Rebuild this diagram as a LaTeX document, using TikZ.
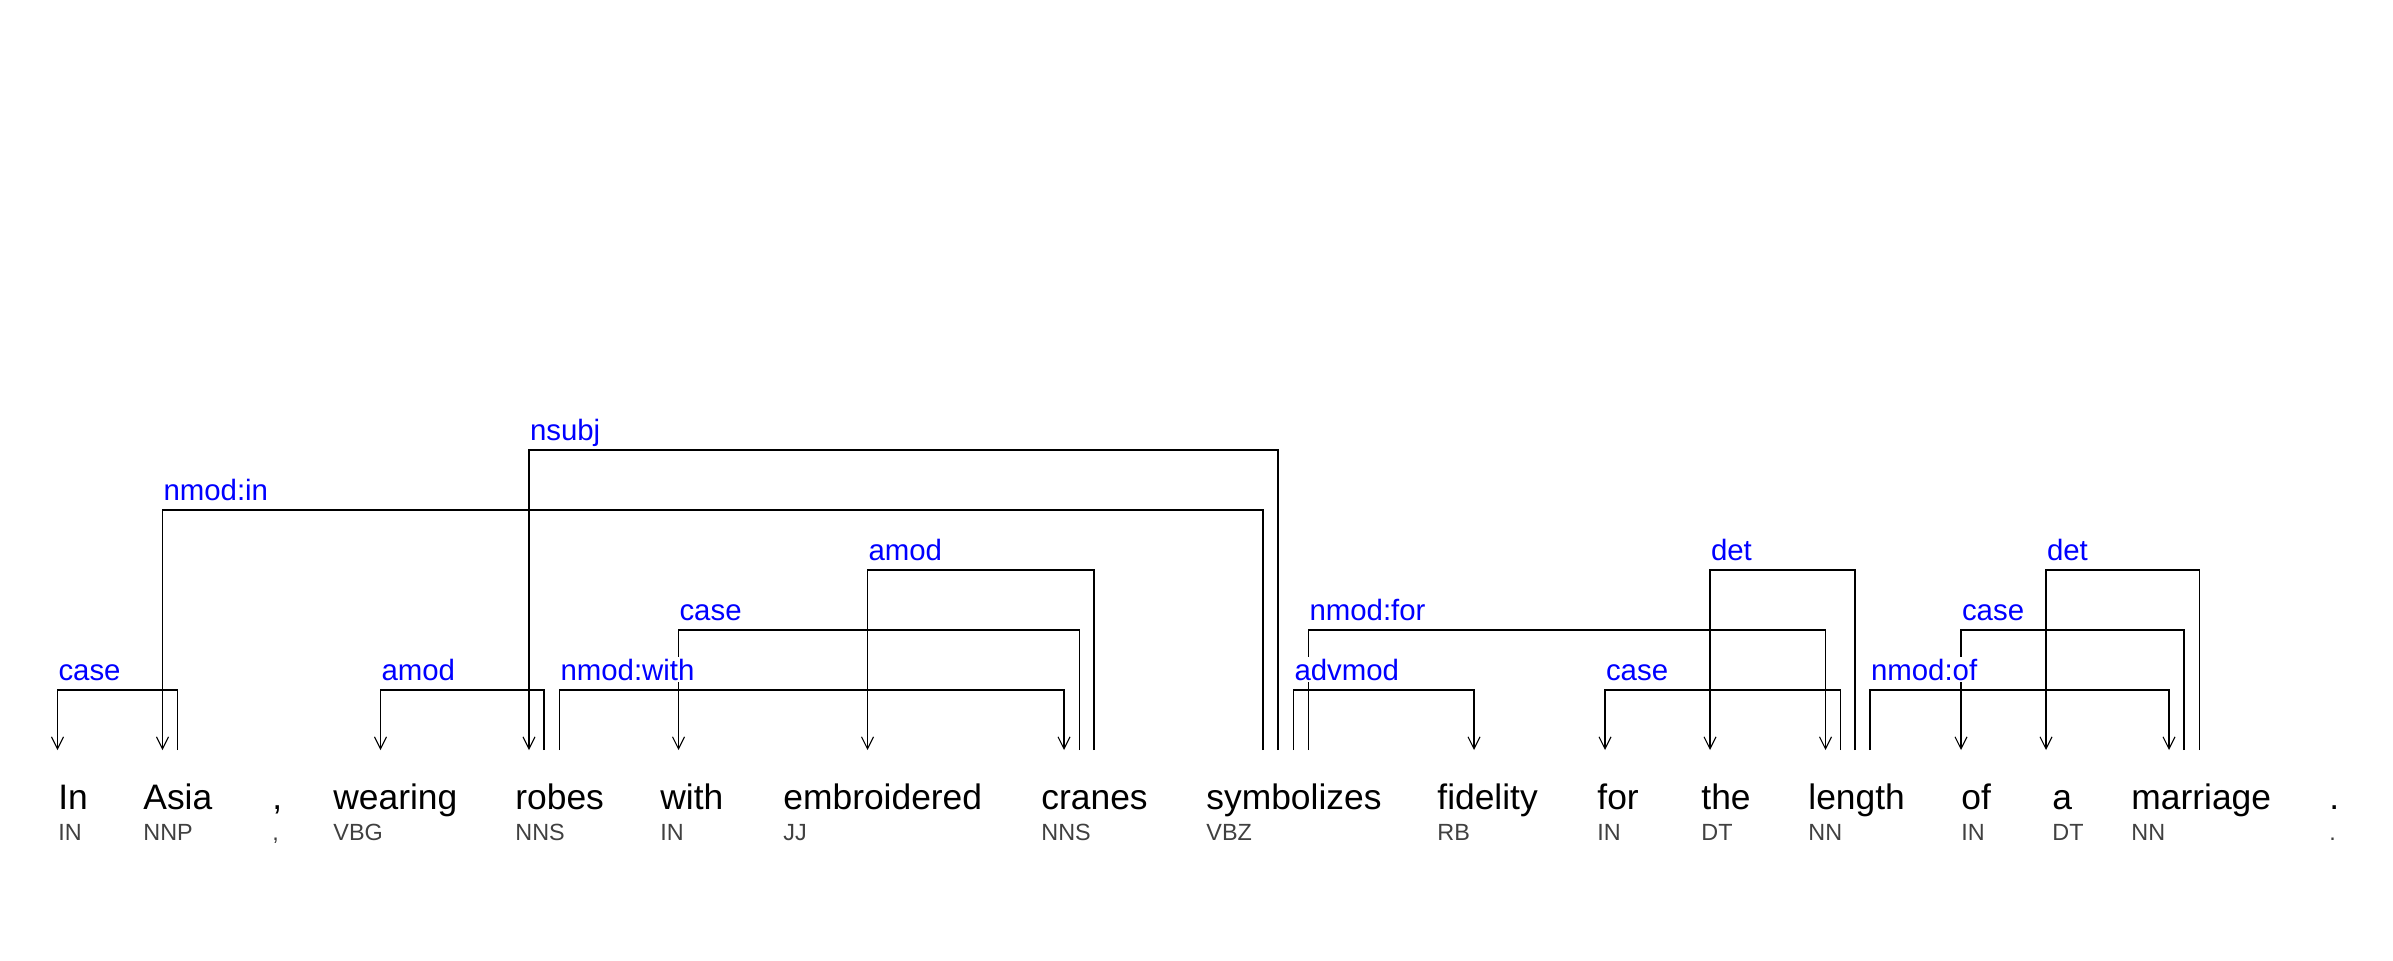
\documentclass[tikz,border=0pt]{standalone}
\usepackage{fontspec}
\setmainfont{Liberation Sans}
\usetikzlibrary{arrows.meta}
\definecolor{labblue}{RGB}{0,0,255}
\definecolor{posgray}{RGB}{64,64,64}
\begin{document}
\begin{tikzpicture}[x=0.5pt,y=-0.5pt,
  wordtxt/.style={anchor=base west, inner sep=0pt, font=\fontsize{17.7pt}{20pt}\selectfont},
  postag/.style={anchor=base west, inner sep=0pt, text=posgray, font=\fontsize{11.7pt}{13pt}\selectfont},
  deplab/.style={anchor=base west, inner xsep=0.3pt, inner ysep=1pt, text=labblue, fill=white, font=\fontsize{14.7pt}{16pt}\selectfont},
  deparc/.style={draw=black, line width=0.55pt, -{Straight Barb[length=6pt,width=6pt]}}]
\useasboundingbox (0,0) rectangle (2393,960);
% levels of the horizontal lines and label baselines
\coordinate (L1) at (0,690); \coordinate (B1) at (0,680);
\coordinate (L2) at (0,630); \coordinate (B2) at (0,620);
\coordinate (L3) at (0,570); \coordinate (B3) at (0,560);
\coordinate (L4) at (0,510); \coordinate (B4) at (0,500);
\coordinate (L5) at (0,450); \coordinate (B5) at (0,440);
% words
\foreach \i/\x/\w/\p in {1/58/In/IN, 2/143/Asia/NNP, 3/272/{,}/{,}, 4/333/wearing/VBG,
  5/515/robes/NNS, 6/660/with/IN, 7/783/embroidered/JJ, 8/1041/cranes/NNS,
  9/1206/symbolizes/VBZ, 10/1437/fidelity/RB, 11/1597/for/IN, 12/1701/the/DT,
  13/1808/length/NN, 14/1961/of/IN, 15/2052/a/DT, 16/2131/marriage/NN, 17/2329/./.}{
  \node[wordtxt] (w\i) at (\x,809) {\w};
  \node[postag] (p\i) at (\x,840) {\p};
}
% attachment points (d = dependent, h = head)
\coordinate (a1d) at (57.5,750);  \coordinate (a1h) at (177.5,750);
\coordinate (a2d) at (162.5,750); \coordinate (a2h) at (1263,750);
\coordinate (a3d) at (380.5,750); \coordinate (a3h) at (544,750);
\coordinate (a4d) at (529,750);   \coordinate (a4h) at (1278,750);
\coordinate (a5h) at (559.5,750); \coordinate (a5d) at (1064,750);
\coordinate (a6d) at (678.5,750); \coordinate (a6h) at (1079.5,750);
\coordinate (a7d) at (867.5,750); \coordinate (a7h) at (1094,750);
\coordinate (a8h) at (1293.5,750);\coordinate (a8d) at (1474,750);
\coordinate (a9h) at (1308.5,750);\coordinate (a9d) at (1825.5,750);
\coordinate (a10d) at (1605,750); \coordinate (a10h) at (1840.5,750);
\coordinate (a11d) at (1710,750); \coordinate (a11h) at (1855,750);
\coordinate (a12h) at (1870,750); \coordinate (a12d) at (2169,750);
\coordinate (a13d) at (1961,750); \coordinate (a13h) at (2184,750);
\coordinate (a14d) at (2046,750); \coordinate (a14h) at (2199.5,750);
% arcs
\draw[deparc] (a1h) -- (a1h |- L1) -| (a1d);
\draw[deparc] (a2h) -- (a2h |- L4) -| (a2d);
\draw[deparc] (a3h) -- (a3h |- L1) -| (a3d);
\draw[deparc] (a4h) -- (a4h |- L5) -| (a4d);
\draw[deparc] (a5h) -- (a5h |- L1) -| (a5d);
\draw[deparc] (a6h) -- (a6h |- L2) -| (a6d);
\draw[deparc] (a7h) -- (a7h |- L3) -| (a7d);
\draw[deparc] (a8h) -- (a8h |- L1) -| (a8d);
\draw[deparc] (a9h) -- (a9h |- L2) -| (a9d);
\draw[deparc] (a10h) -- (a10h |- L1) -| (a10d);
\draw[deparc] (a11h) -- (a11h |- L3) -| (a11d);
\draw[deparc] (a12h) -- (a12h |- L1) -| (a12d);
\draw[deparc] (a13h) -- (a13h |- L2) -| (a13d);
\draw[deparc] (a14h) -- (a14h |- L3) -| (a14d);
% labels
\node[deplab] (t1) at (a1d |- B1) {case};
\node[deplab] (t2) at (a2d |- B4) {nmod:in};
\node[deplab] (t3) at (a3d |- B1) {amod};
\node[deplab] (t4) at (a4d |- B5) {nsubj};
\node[deplab] (t5) at (a5h |- B1) {nmod:with};
\node[deplab] (t6) at (a6d |- B2) {case};
\node[deplab] (t7) at (a7d |- B3) {amod};
\node[deplab] (t8) at (a8h |- B1) {advmod};
\node[deplab] (t9) at (a9h |- B2) {nmod:for};
\node[deplab] (t10) at (a10d |- B1) {case};
\node[deplab] (t11) at (a11d |- B3) {det};
\node[deplab] (t12) at (a12h |- B1) {nmod:of};
\node[deplab] (t13) at (a13d |- B2) {case};
\node[deplab] (t14) at (a14d |- B3) {det};
\end{tikzpicture}
\end{document}
